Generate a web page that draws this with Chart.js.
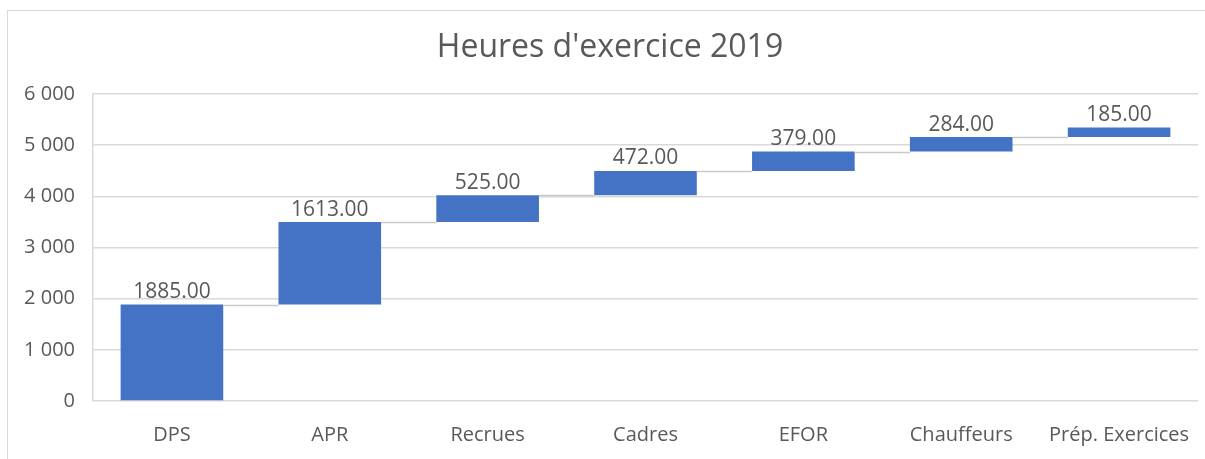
<!DOCTYPE html>
<html>
<head>
<meta charset="utf-8">
<script src="https://cdn.jsdelivr.net/npm/chart.js@4/dist/chart.umd.min.js"></script>
<style>
  html, body { margin: 0; padding: 0; background: #fff; overflow: hidden; }
  #cadre { position: absolute; left: 7px; top: 10px; width: 1300px; height: 500px; border: 1px solid #d9d9d9; }
  #zone { position: absolute; left: 0; top: 0; width: 1205px; height: 459px; }
</style>
</head>
<body>
<div id="cadre"></div>
<div id="zone"><canvas id="graphique" width="1205" height="459"></canvas></div>
<script>
// Heures d'exercice 2019 - cascade
const categories = ['DPS', 'APR', 'Recrues', 'Cadres', 'EFOR', 'Chauffeurs', 'Prép. Exercices'];
const heures = [1885, 1613, 525, 472, 379, 284, 185];
const graduations = [0, 1000, 2000, 3000, 4000, 5000, 6000];

// barres flottantes [début, fin]
let cumul = 0;
const barres = heures.map(h => {
    const debut = cumul;
    cumul += h;
    return [debut, cumul];
});

const texte = '#595959';
const police = "'Open Sans', sans-serif";

const connecteurs = {
    id: 'connecteurs',
    afterDatasetsDraw(chart) {
        const ctx = chart.ctx;
        const meta = chart.getDatasetMeta(0);
        const y = chart.scales.y;
        ctx.save();
        ctx.strokeStyle = '#c9c9c9';
        ctx.lineWidth = 1.5;
        for (let i = 0; i < meta.data.length - 1; i++) {
            const a = meta.data[i];
            const b = meta.data[i + 1];
            const py = Math.round(y.getPixelForValue(barres[i][1])) + 0.5;
            ctx.beginPath();
            ctx.moveTo(a.x + a.width / 2, py);
            ctx.lineTo(b.x - b.width / 2, py);
            ctx.stroke();
        }
        ctx.restore();
    }
};

const etiquettes = {
    id: 'etiquettes',
    afterDatasetsDraw(chart) {
        const ctx = chart.ctx;
        const meta = chart.getDatasetMeta(0);
        ctx.save();
        ctx.fillStyle = texte;
        ctx.font = '21px ' + police;
        ctx.textAlign = 'center';
        ctx.textBaseline = 'bottom';
        meta.data.forEach((bar, i) => {
            ctx.fillText(heures[i].toFixed(2), bar.x, bar.y - 2);
        });
        ctx.restore();
    }
};

new Chart(document.getElementById('graphique').getContext('2d'), {
    type: 'bar',
    data: {
        labels: categories,
        datasets: [{
            label: 'Heures',
            data: barres,
            backgroundColor: '#4472C4',
            borderWidth: 0,
            categoryPercentage: 1,
            barPercentage: 0.65
        }]
    },
    options: {
        responsive: false,
        animation: false,
        devicePixelRatio: 1,
        layout: { padding: { left: 22, right: 7, top: 0, bottom: 0 } },
        plugins: {
            legend: { display: false },
            tooltip: { enabled: false },
            title: {
                display: true,
                text: "Heures d'exercice 2019",
                color: texte,
                font: { family: police, size: 32, weight: 'normal' },
                padding: { top: 29, bottom: 26.6 }
            }
        },
        scales: {
            x: {
                grid: { display: false, drawTicks: false },
                border: { display: false },
                ticks: { color: texte, font: { family: police, size: 20 }, padding: 22, maxRotation: 0 },
                afterFit(scale) {
                    scale.height = 58;
                    scale.paddingLeft = 0;
                    scale.paddingRight = 0;
                }
            },
            y: {
                min: 0,
                max: 6000,
                afterBuildTicks(scale) { scale.ticks = graduations.map(v => ({ value: v })); },
                grid: { color: '#d9d9d9', lineWidth: 1.5, drawTicks: false },
                border: { display: true, color: '#d9d9d9', width: 1.5 },
                ticks: {
                    color: texte,
                    font: { family: police, size: 20 },
                    padding: 18,
                    callback: v => String(v).replace(/\B(?=(\d{3})+(?!\d))/g, ' ')
                },
                afterFit(scale) { scale.width = 71; }
            }
        }
    },
    plugins: [connecteurs, etiquettes]
});
</script>
</body>
</html>
